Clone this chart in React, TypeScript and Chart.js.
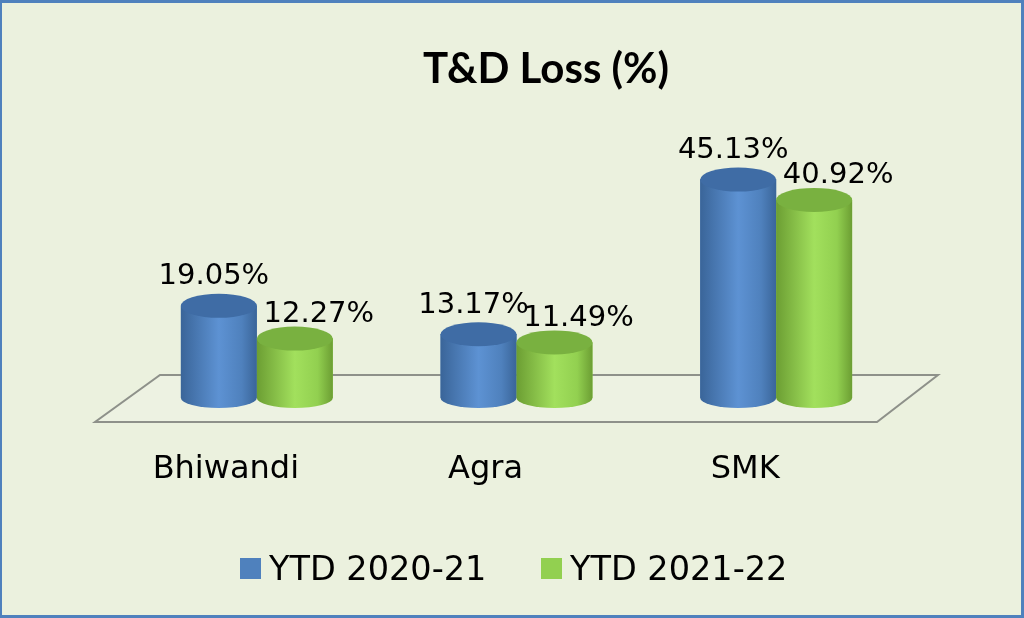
import React, { useEffect, useRef } from "react";
import { Chart, registerables } from "chart.js";

Chart.register(...registerables);

const categories = ["Bhiwandi", "Agra", "SMK"];
const seriesNames = ["YTD 2020-21", "YTD 2021-22"];
const ytd2021 = [19.05, 13.17, 45.13];
const ytd2122 = [12.27, 11.49, 40.92];
const chartTitle = "T&D Loss (%)";

const BLUE = { base: "#4F81BD", edge: "#3A6599", mid: "#5D92D3", top: "#3F6CA5" };
const GREEN = { base: "#92D050", edge: "#6C9E33", mid: "#A2E05D", top: "#79B140" };
const PALETTES = [BLUE, GREEN];
const LABEL_DX = [-5, 24];
const LABEL_DY = [-29, -24];

const cylinderPlugin = {
  id: "cylinders",
  beforeDatasetsDraw(chart: any) {
    const { ctx, chartArea } = chart;
    const base = chart.scales.y.getPixelForValue(0);
    const l = chartArea.left;
    const r = chartArea.right;
    ctx.save();
    ctx.beginPath();
    ctx.moveTo(l - 32, base + 24);
    ctx.lineTo(r - 29, base + 24);
    ctx.lineTo(r + 32, base - 23);
    ctx.lineTo(l + 33, base - 23);
    ctx.closePath();
    ctx.fillStyle = "#EDF2E2";
    ctx.fill();
    ctx.strokeStyle = "#8E918A";
    ctx.lineWidth = 2;
    ctx.stroke();
    ctx.restore();
  },
  afterDatasetsDraw(chart: any) {
    const { ctx } = chart;
    const metas = chart.data.datasets.map((_: any, i: number) => chart.getDatasetMeta(i));
    const n = chart.data.labels.length;
    ctx.save();
    for (let j = 0; j < n; j++) {
      metas.forEach((meta: any, di: number) => {
        const el = meta.data[j];
        if (!el) return;
        const p = PALETTES[di];
        const w = el.width;
        const rx = w / 2;
        const ry = 12;
        const x = el.x;
        const top = el.y;
        const bottom = el.base;
        const left = x - rx;
        const right = x + rx;
        const g = ctx.createLinearGradient(left, 0, right, 0);
        g.addColorStop(0, p.edge);
        g.addColorStop(0.5, p.mid);
        g.addColorStop(0.8, p.base);
        g.addColorStop(1, p.edge);
        ctx.beginPath();
        ctx.moveTo(left, top);
        ctx.lineTo(left, bottom);
        ctx.ellipse(x, bottom, rx, ry - 2, 0, Math.PI, 0, true);
        ctx.lineTo(right, top);
        ctx.closePath();
        ctx.fillStyle = g;
        ctx.fill();
        ctx.beginPath();
        ctx.ellipse(x, top, rx, ry, 0, 0, Math.PI * 2);
        ctx.fillStyle = p.top;
        ctx.fill();
      });
    }
    // data labels
    ctx.fillStyle = "#000";
    ctx.font = "29px 'DejaVu Sans'";
    ctx.textAlign = "center";
    ctx.textBaseline = "middle";
    metas.forEach((meta: any, di: number) => {
      const values = chart.data.datasets[di].data;
      meta.data.forEach((el: any, j: number) => {
        ctx.fillText(values[j].toFixed(2) + "%", el.x + LABEL_DX[di], el.y + LABEL_DY[di]);
      });
    });
    ctx.restore();
  },
  afterDraw(chart: any) {
    const { ctx } = chart;
    ctx.save();
    // title
    ctx.fillStyle = "#000";
    ctx.font = "bold 42px Lato";
    ctx.textAlign = "center";
    ctx.textBaseline = "alphabetic";
    ctx.fillText(chartTitle, 546, 83);
    // legend
    const legendItems = [
      { x: 240, color: BLUE.base, text: seriesNames[0] },
      { x: 541, color: GREEN.base, text: seriesNames[1] },
    ];
    ctx.font = "33.5px 'DejaVu Sans'";
    ctx.textAlign = "left";
    legendItems.forEach((it) => {
      ctx.fillStyle = it.color;
      ctx.fillRect(it.x, 558, 21, 21);
      ctx.fillStyle = "#000";
      ctx.fillText(it.text, it.x + 29, 580);
    });
    // frame
    ctx.fillStyle = "#4F81BD";
    ctx.fillRect(0, 0, 1024, 3);
    ctx.fillRect(0, 0, 2, 618);
    ctx.fillRect(1021, 0, 3, 618);
    ctx.fillRect(0, 615, 1024, 3);
    ctx.restore();
  },
};

export default function App() {
  const canvasRef = useRef<HTMLCanvasElement | null>(null);

  useEffect(() => {
    document.body.style.margin = "0";
    const canvas = canvasRef.current;
    if (!canvas) return;
    const chart = new Chart(canvas, {
      type: "bar",
      data: {
        labels: categories,
        datasets: [
          { label: seriesNames[0], data: ytd2021, backgroundColor: BLUE.base, borderWidth: 0 },
          { label: seriesNames[1], data: ytd2122, backgroundColor: GREEN.base, borderWidth: 0 },
        ],
      },
      options: {
        responsive: false,
        animation: false,
        layout: { padding: { left: 127, right: 118, top: 156, bottom: 0 } },
        scales: {
          y: { display: false, min: 0, max: 50 },
          x: {
            grid: { display: false, drawTicks: false },
            border: { display: false },
            ticks: {
              color: "#000",
              font: { family: "'DejaVu Sans'", size: 32 },
              padding: 52,
              labelOffset: -31,
            },
            afterFit: (scale: any) => {
              scale.height = 220;
            },
          },
        },
        datasets: { bar: { barPercentage: 1, categoryPercentage: 0.585 } },
        plugins: {
          legend: { display: false },
          title: { display: false },
          tooltip: { enabled: false },
        },
      },
      plugins: [cylinderPlugin],
    });
    return () => chart.destroy();
  }, []);

  return (
    <div
      style={{
        position: "fixed",
        left: 0,
        top: 0,
        width: 1024,
        height: 618,
        background: "#EBF1DE",
      }}
    >
      <canvas ref={canvasRef} width={1024} height={618} />
    </div>
  );
}
